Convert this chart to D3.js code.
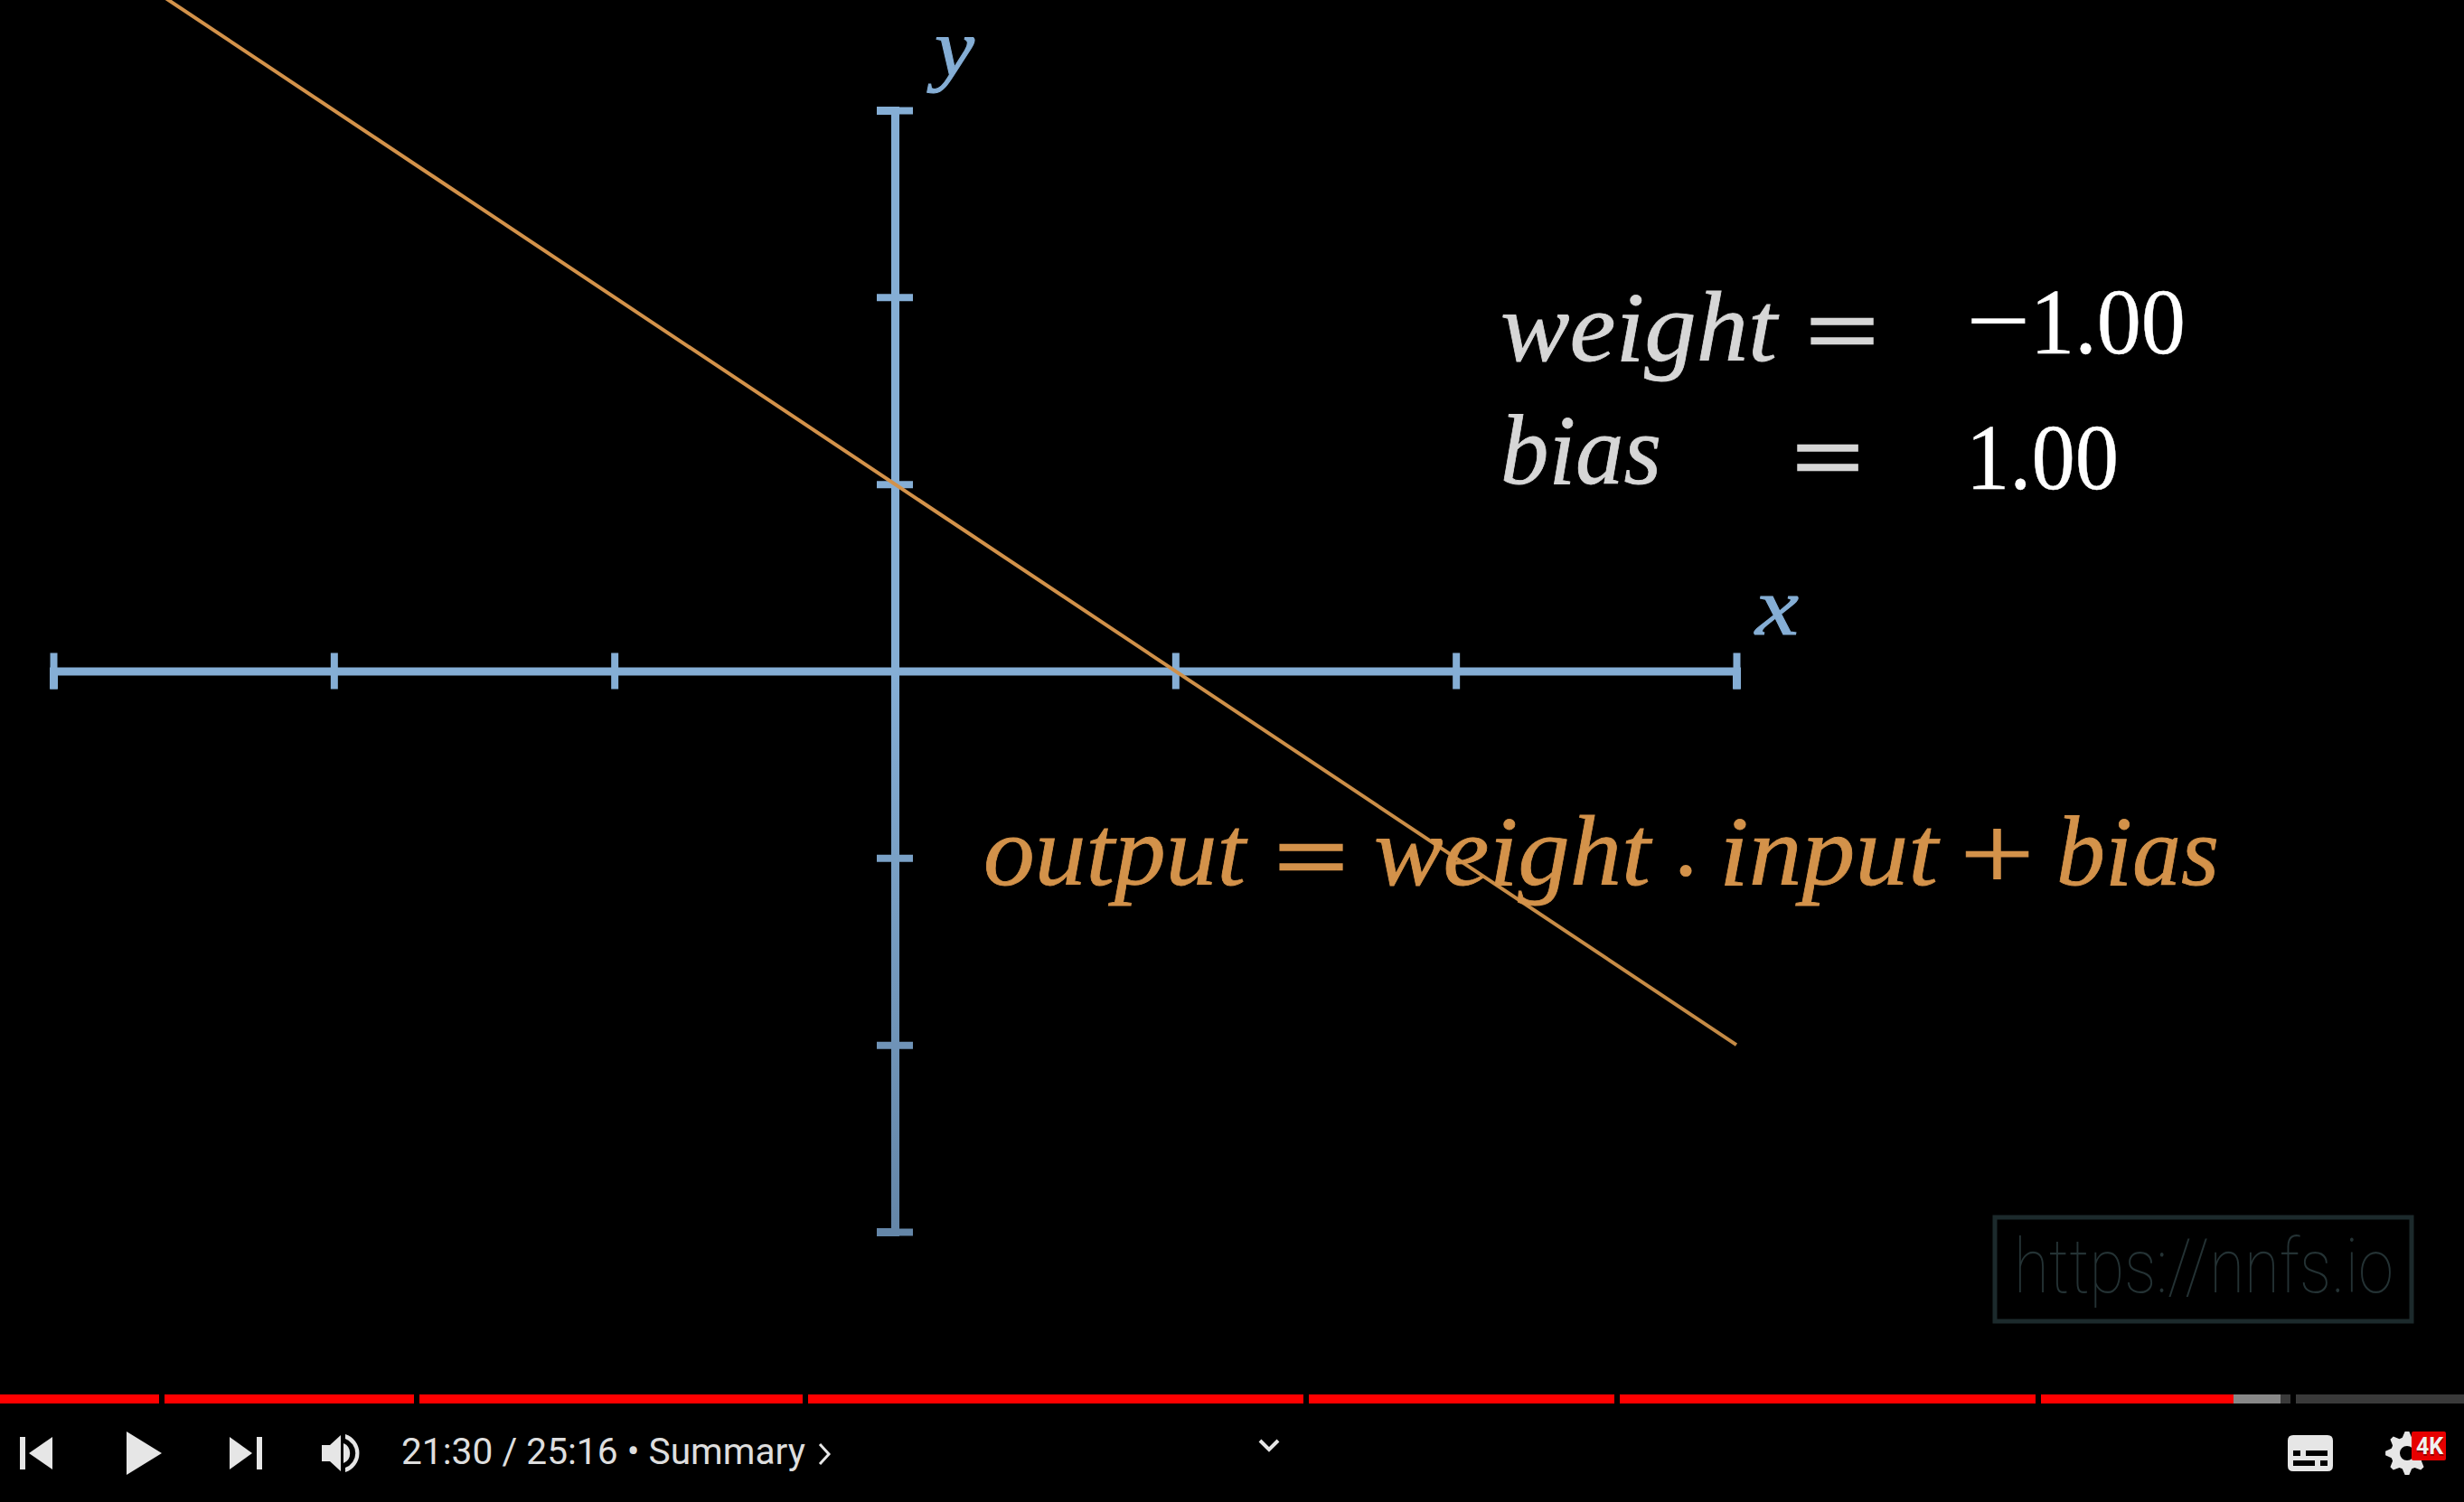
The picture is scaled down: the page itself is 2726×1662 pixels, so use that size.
<!DOCTYPE html>
<html><head><meta charset="utf-8">
<style>html,body{margin:0;padding:0;background:#000;overflow:hidden}svg{display:block}</style>
<script src="https://cdn.jsdelivr.net/npm/d3@7"></script></head>
<body><svg id="c" width="2726" height="1662"></svg>
<script>
// --- data ---
const xTickValues = [-3,-2,-1,0,1,2,3];
const yTickValues = [-3,-2,-1,0,1,2,3];
const weight = -1.00;
const bias = 1.00;
const lineInputs = [-3, 3];
const chapterStarts = [0, 182, 464, 894, 1448, 1792, 2258, 2540];
const chapterEnds = [176, 458, 888, 1442, 1786, 2252, 2534, 2726];
const playedTo = 2471, bufferedTo = 2523;
const timeLabel = "21:30 / 25:16 • Summary";
const watermark = "https://nnfs.io";

const W = 2726, H = 1662;
const svg = d3.select("#c");
svg.append("rect").attr("width",W).attr("height",H).attr("fill","#000");
const x = d3.scaleLinear().domain([-3,3]).range([59,1921]);
const y = d3.scaleLinear().domain([-3,3]).range([1363,122]);
const fmt = d3.format(".2f");

const defs = svg.append("defs");
const g1 = defs.append("linearGradient").attr("id","axisFade").attr("gradientUnits","userSpaceOnUse")
  .attr("x1",0).attr("x2",0).attr("y1",122).attr("y2",1363);
g1.append("stop").attr("offset",0.5).attr("stop-color","#85aed5");
g1.append("stop").attr("offset",1).attr("stop-color","#6486a8");
const g2 = defs.append("linearGradient").attr("id","lineFade").attr("gradientUnits","userSpaceOnUse")
  .attr("x1",0).attr("x2",0).attr("y1",0).attr("y2",1156);
g2.append("stop").attr("offset",0.5).attr("stop-color","#d3924a");
g2.append("stop").attr("offset",1).attr("stop-color","#c48a45");

// axes
const ax = svg.append("g").attr("transform",`translate(0,${y(0)})`)
  .call(d3.axisBottom(x).tickValues(xTickValues).tickFormat("").tickSizeOuter(0).tickSize(20));
ax.selectAll("line").attr("y1",-20).attr("y2",20).attr("stroke","#85aed5").attr("stroke-width",8);
ax.select(".domain").attr("stroke","#85aed5").attr("stroke-width",9);

const ay = svg.append("g").attr("transform",`translate(${x(0)},0)`)
  .call(d3.axisLeft(y).tickValues(yTickValues).tickFormat("").tickSizeOuter(0).tickSize(20));
ay.selectAll("line").attr("x1",-20).attr("x2",20)
  .attr("stroke",d=>d3.interpolateRgb("#85aed5","#6486a8")(d<0?(-d)/3:0)).attr("stroke-width",8)
  .attr("opacity",d=>d===0?0:1);
ay.select(".domain").attr("stroke","url(#axisFade)").attr("stroke-width",9);

// output line
const line = d3.line().x(d=>x(d)).y(d=>y(weight*d+bias));
svg.append("path").datum(lineInputs).attr("d",line).attr("fill","none")
  .attr("stroke","url(#lineFade)").attr("stroke-width",4);

// math text
function mathText(t,x0,x1,base,size,fill,italic=true,sw=0.8){
  svg.append("text").text(t).attr("x",x0).attr("y",base)
    .attr("font-family","'Liberation Serif',serif").attr("font-style",italic?"italic":"normal")
    .attr("font-size",size).attr("fill",fill).attr("stroke",fill).attr("stroke-width",sw)
    .attr("textLength",x1-x0).attr("lengthAdjust","spacingAndGlyphs");
}
const grey="#d6d6d6", orange="#d3924a", blue="#85aed5";
mathText("y",1034,1078,84,92,blue,true,1);
mathText("x",1942,1990,702,92,blue,true,1);
mathText("weight",1660,1966,399,110,grey);
mathText("=",1998,2078,402,108,grey,false,2.5);
const wTxt = fmt(weight);
mathText(wTxt[0],2175,2246,391,108,"#fff",false,0.3);
mathText(wTxt.slice(1),2246,2418,391,104,"#fff",false,0.4);
mathText("bias",1660,1838,535,110,grey);
mathText("=",1983,2061,542,108,grey,false,2.5);
mathText(fmt(bias),2175,2344,541,104,"#fff",false,0.4);
mathText("output",1088,1378,979,110,orange);
mathText("=",1410,1491,984,108,orange,false,2.5);
mathText("weight",1520,1826,979,110,orange);
svg.append("text").text("·").attr("x",1865).attr("y",1000).attr("text-anchor","middle")
  .attr("font-family","'Liberation Serif',serif").attr("font-size",110).attr("fill",orange);
mathText("input",1902,2144,979,110,orange);
mathText("+",2168,2251,985,118,orange,false,0.8);
mathText("bias",2275,2455,979,110,orange);

// watermark
svg.append("rect").attr("x",2207).attr("y",1347).attr("width",461).attr("height",115)
  .attr("fill","none").attr("stroke","#1c2a2c").attr("stroke-width",5);
svg.append("text").text(watermark).attr("x",2228).attr("y",1430)
  .attr("font-family","Roboto,Inter,sans-serif").attr("font-weight",100).attr("font-size",84)
  .attr("fill","#243234").attr("textLength",420).attr("lengthAdjust","spacingAndGlyphs");

// progress bar
const bar = svg.append("g");
bar.selectAll("rect").data(d3.zip(chapterStarts,chapterEnds)).join("rect")
  .attr("x",d=>d[0]).attr("y",1543).attr("width",d=>d[1]-d[0]).attr("height",10).attr("fill","#3a3a3a");
bar.selectAll("rect.b").data(d3.zip(chapterStarts,chapterEnds)).join("rect").attr("class","b")
  .attr("x",d=>d[0]).attr("y",1543).attr("height",10)
  .attr("width",d=>Math.max(0,Math.min(d[1],bufferedTo)-d[0])).attr("fill","#888");
bar.selectAll("rect.p").data(d3.zip(chapterStarts,chapterEnds)).join("rect").attr("class","p")
  .attr("x",d=>d[0]).attr("y",1543).attr("height",10)
  .attr("width",d=>Math.max(0,Math.min(d[1],playedTo)-d[0])).attr("fill","#f00");

// controls
const ic="#e6e6e6";
const ctl=svg.append("g").attr("fill",ic);
ctl.append("rect").attr("x",22).attr("y",1590).attr("width",6).attr("height",36);
ctl.append("path").attr("d","M58 1590V1626L32 1608Z");
ctl.append("path").attr("d","M140 1584L179 1608L140 1632Z");
ctl.append("path").attr("d","M254 1590V1626L279 1608Z");
ctl.append("rect").attr("x",284).attr("y",1590).attr("width",6).attr("height",36);
ctl.append("path").attr("d","M356 1599H365L377 1588V1628L365 1617H356Z");
ctl.append("path").attr("d","M380 1597A12 12 0 0 1 380 1619Z");
ctl.append("path").attr("d","M382 1587A22 22 0 0 1 382 1629V1624A17 17 0 0 0 382 1592Z");
svg.append("text").text(timeLabel).attr("x",444).attr("y",1620)
  .attr("font-family","Roboto,sans-serif").attr("font-size",41).attr("fill","#dedede")
  .attr("textLength",447).attr("lengthAdjust","spacingAndGlyphs");
svg.append("path").attr("d","M907 1598L917 1609L907 1620").attr("fill","none").attr("stroke",ic).attr("stroke-width",3);
svg.append("path").attr("d","M1394 1594L1404 1604L1414 1594").attr("fill","none").attr("stroke",ic).attr("stroke-width",4);

// captions icon
svg.append("path").attr("fill-rule","evenodd").attr("fill",ic)
 .attr("d","M2537 1588H2575Q2581 1588 2581 1594V1622Q2581 1628 2575 1628H2537Q2531 1628 2531 1622V1594Q2531 1588 2537 1588Z"+
 "M2537 1605V1611H2545V1605Z M2551 1605V1611H2575V1605Z M2537 1616V1622H2561V1616Z M2567 1616V1622H2575V1616Z");

// gear
const teeth=8, gc=[2663,1608];
let gp=d3.range(teeth*4).map(i=>{
  const a=i/(teeth*4)*2*Math.PI - Math.PI/teeth/4*1;
  const r=(i%4<2)?24:18;
  return [gc[0]+r*Math.cos(a),gc[1]+r*Math.sin(a)];
});
svg.append("path").attr("fill",ic).attr("fill-rule","evenodd")
  .attr("d",d3.line()(gp)+"Z"+`M${gc[0]+8} ${gc[1]}A8 8 0 1 0 ${gc[0]-8} ${gc[1]}A8 8 0 1 0 ${gc[0]+8} ${gc[1]}Z`);
svg.append("rect").attr("x",2668).attr("y",1584).attr("width",38).attr("height",32).attr("rx",2).attr("fill","#e60000");
svg.append("text").text("4K").attr("x",2673).attr("y",1609).attr("font-family","Roboto,sans-serif")
  .attr("font-weight",700).attr("font-size",25).attr("fill","#8d0000").attr("dy",2);
svg.append("text").text("4K").attr("x",2673).attr("y",1609).attr("font-family","Roboto,sans-serif")
  .attr("font-weight",700).attr("font-size",25).attr("fill","#f0f0f0");
</script></body></html>
